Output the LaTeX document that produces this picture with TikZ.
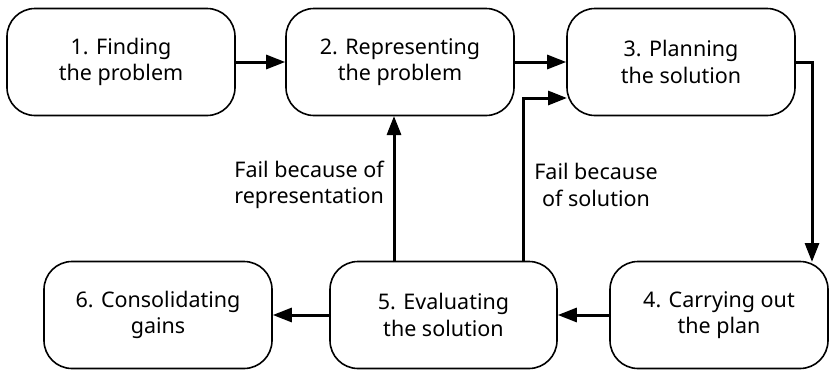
\documentclass[tikz,border=0pt]{standalone}
\usepackage{fontspec}
\setmainfont{Noto Sans}
\usetikzlibrary{arrows.meta,calc}
\begin{document}
\begin{tikzpicture}[x=1pt,y=-1pt,
  stage/.style={draw=black,line width=1.6pt,rounded corners=28pt,
    minimum width=228pt,minimum height=107pt,align=center,
    font=\fontsize{21.5}{26.5}\selectfont,inner sep=0pt},
  flow/.style={line width=3pt,-{Triangle[length=19pt,width=14pt]}},
  note/.style={font=\fontsize{21.5}{26.5}\selectfont,inner sep=0pt}]
\useasboundingbox (0,0) rectangle (831,370);
% process stages
\node[stage] (b1) at (121,62) {1. Finding\\the problem};
\node[stage] (b2) at (400,62) {2. Representing\\the problem};
\node[stage] (b3) at (681,62) {3. Planning\\the solution};
\node[stage,minimum width=218pt] (b4) at (719,315) {4. Carrying out\\the plan};
\node[stage,minimum width=227pt] (b5) at (443.5,315) {5. Evaluating\\the solution};
\node[stage] (b6) at (158,315) {6. Consolidating\\gains};
% helper points for the feedback loops
\coordinate (repup) at (394,116);
\coordinate (repdn) at (394,262);
\coordinate (soldn) at (523,262);
\coordinate (solturn) at (523,98);
\coordinate (solend) at (567,98);
\coordinate (down4) at (812,262);
% main flow
\draw[flow] (b1.east) -- (b2.west);
\draw[flow] (b2.east) -- (b3.west);
\draw[flow,rounded corners=0pt] (b3.east) -| (down4);
\draw[flow] (b4.west) -- (b5.east);
\draw[flow] (b5.west) -- (b6.east);
% failure paths
\draw[flow] (repdn) -- (repup);
\draw[flow] (soldn) -- (solturn) -- (solend);
% labels
\node[note,anchor=east,align=right] (lrep) at (384,185) {Fail because of\\representation};
\node[note,align=center] (lsol) at (596,185) {Fail because\\of solution};
\end{tikzpicture}
\end{document}
